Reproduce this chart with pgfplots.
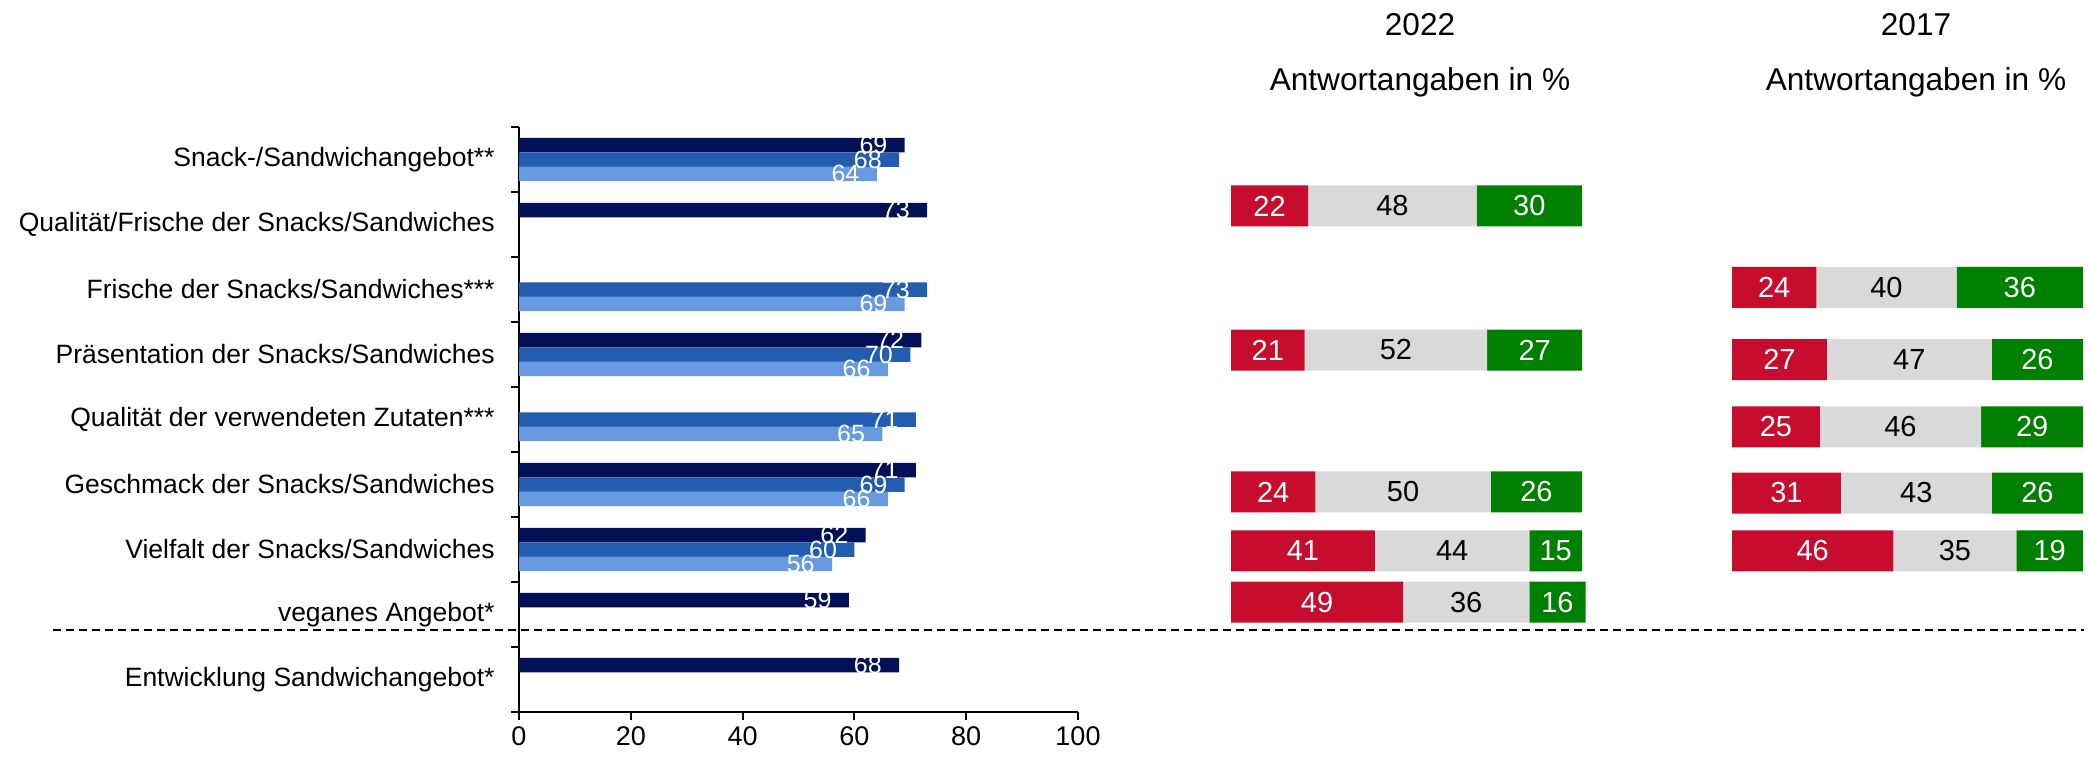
\documentclass[border=0pt]{standalone}
\usepackage{pgfplots}
\pgfplotsset{compat=1.18}
\usepackage{fontspec}
\setmainfont{Liberation Sans}
\definecolor{cdark}{HTML}{021155}
\definecolor{cmid}{HTML}{225DAF}
\definecolor{clight}{HTML}{679AE0}
\definecolor{cred}{HTML}{C80C2E}
\definecolor{cgray}{HTML}{D9D9D9}
\definecolor{cgreen}{HTML}{008000}
\pgfplotsset{
  leftval/.style={nodes near coords, point meta=x,
    every node near coord/.append style={anchor=east, xshift=-8.5pt, text=white, inner sep=0pt,
      font=\fontsize{12.5}{12.5}\selectfont}},
  segval/.style={nodes near coords={\pgfmathprintnumber{\rawv}}, visualization depends on={rawx \as \rawv},
    every node near coord/.append style={anchor=center, text=#1, inner sep=0pt,
      font=\fontsize{14.5}{14.5}\selectfont}},
}
\begin{document}
\begin{tikzpicture}
\useasboundingbox (0pt,0pt) rectangle (1044pt,378pt);
% left chart
\begin{axis}[
  at={(259.5pt,22pt)}, anchor=south west, scale only axis,
  width=279.5pt, height=292.5pt,
  xmin=0, xmax=100, ymin=-0.5, ymax=8.5,
  axis x line=bottom, axis y line=left, axis line style={-, line width=1pt},
  tick align=outside, major tick length=4pt, minor tick length=4pt,
  tick style={line width=1pt, black},
  xtick={0,20,...,100},
  ytick={0,...,8},
  yticklabels={Entwicklung Sandwichangebot*, veganes Angebot*, Vielfalt der Snacks/Sandwiches, Geschmack der Snacks/Sandwiches, Qualität der verwendeten Zutaten***, Präsentation der Snacks/Sandwiches, Frische der Snacks/Sandwiches***, Qualität/Frische der Snacks/Sandwiches, Snack-/Sandwichangebot**},
  minor ytick={-0.5,0.5,...,8.5},
  major y tick style={draw=none},
  yticklabel style={font=\fontsize{13.25}{15}\selectfont, inner sep=0pt, xshift=-8pt},
  xticklabel style={font=\fontsize{13.5}{15}\selectfont},
  /pgf/number format/assume math mode=true,
  clip=false,
]
\addplot[xbar, bar width=7.25pt, bar shift=0pt, fill=cdark, draw=none, leftval]
  coordinates {(69,8.223) (73,7.223) (72,5.223) (71,3.223) (62,2.223) (59,1.223) (68,0.223)};
\addplot[xbar, bar width=7.25pt, bar shift=0pt, fill=cmid, draw=none, leftval]
  coordinates {(68,8) (73,6) (70,5) (71,4) (69,3) (60,2)};
\addplot[xbar, bar width=7.25pt, bar shift=0pt, fill=clight, draw=none, leftval]
  coordinates {(64,7.777) (69,5.777) (66,4.777) (65,3.777) (66,2.777) (56,1.777)};
\end{axis}
% 2022
\begin{axis}[
  at={(615.5pt,22pt)}, anchor=south west, scale only axis,
  width=175.5pt, height=292.5pt,
  xmin=0, xmax=100, ymin=-0.5, ymax=8.5,
  hide axis, clip=false, xbar stacked, bar width=20.5pt,
  /pgf/number format/assume math mode=true,
]
\addplot[fill=cred, draw=none, segval=white]
  coordinates {(22,7.285) (21,5.069) (24,2.885) (41,1.977) (49,1.192)};
\addplot[fill=cgray, draw=none, segval=black]
  coordinates {(48,7.285) (52,5.069) (50,2.885) (44,1.977) (36,1.192)};
\addplot[fill=cgreen, draw=none, segval=white]
  coordinates {(30,7.285) (27,5.069) (26,2.885) (15,1.977) (16,1.192)};
\end{axis}
% 2017
\begin{axis}[
  at={(866pt,22pt)}, anchor=south west, scale only axis,
  width=175.5pt, height=292.5pt,
  xmin=0, xmax=100, ymin=-0.5, ymax=8.5,
  hide axis, clip=false, xbar stacked, bar width=20.5pt,
  /pgf/number format/assume math mode=true,
]
\addplot[fill=cred, draw=none, segval=white]
  coordinates {(24,6.031) (27,4.923) (25,3.885) (31,2.869) (46,1.977)};
\addplot[fill=cgray, draw=none, segval=black]
  coordinates {(40,6.031) (47,4.923) (46,3.885) (43,2.869) (35,1.977)};
\addplot[fill=cgreen, draw=none, segval=white]
  coordinates {(36,6.031) (26,4.923) (29,3.885) (26,2.869) (19,1.977)};
\end{axis}
\draw[line width=1pt, dash pattern=on 4pt off 2.5pt] (26.5pt,63pt) -- (1042pt,63pt);
\node[font=\fontsize{15.8}{18}\selectfont] at (710pt,365.5pt) {2022};
\node[font=\fontsize{15.8}{18}\selectfont] at (710pt,337pt) {Antwortangaben in \%};
\node[font=\fontsize{15.8}{18}\selectfont] at (958pt,365.5pt) {2017};
\node[font=\fontsize{15.8}{18}\selectfont] at (958pt,337pt) {Antwortangaben in \%};
\end{tikzpicture}
\end{document}
